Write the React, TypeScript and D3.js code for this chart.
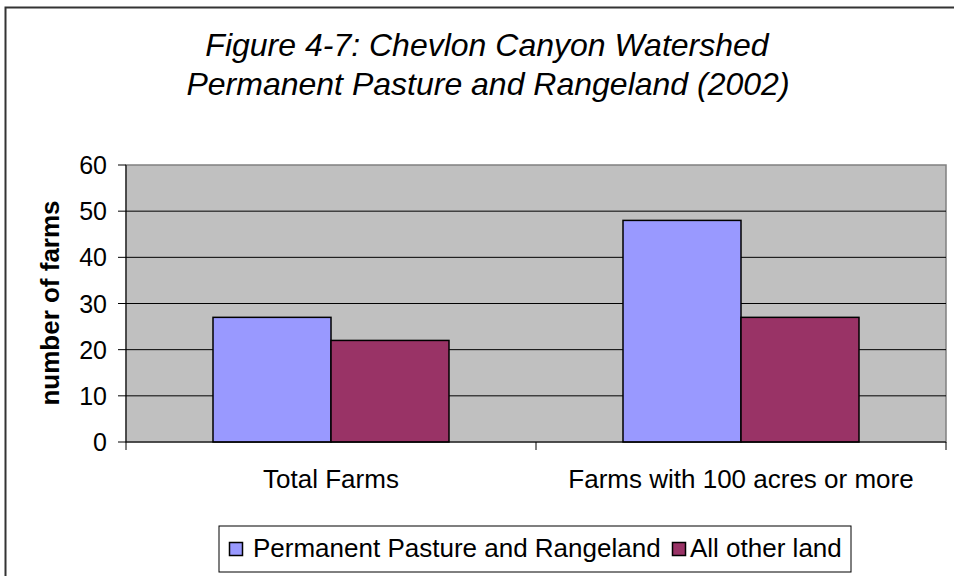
import React from "react";
import * as d3 from "d3";

const categories = ["Total Farms", "Farms with 100 acres or more"];
const seriesNames = ["Permanent Pasture and Rangeland", "All other land"];
const pastureValues = [27, 48];
const otherValues = [22, 27];
const yTicks = [0, 10, 20, 30, 40, 50, 60];
const colors = ["#9999FF", "#993366"];

const W = 954;
const H = 576;
const plot = { left: 126, right: 946, top: 165, bottom: 442 };
const FONT = "'Liberation Sans', Arial, sans-serif";

export default function App() {
  const x0 = d3
    .scaleBand<string>()
    .domain(categories)
    .range([plot.left, plot.right])
    .paddingInner(0)
    .paddingOuter(0);
  const groupPad = 0.2122;
  const x1 = d3
    .scaleBand<string>()
    .domain(seriesNames)
    .range([x0.bandwidth() * groupPad, x0.bandwidth() * (1 - groupPad)]);
  const y = d3.scaleLinear().domain([0, 60]).range([plot.bottom, plot.top]);
  const series = [pastureValues, otherValues];

  return (
    <svg
      width={W}
      height={H}
      style={{ position: "absolute", left: 0, top: 0 }}
      fontFamily={FONT}
    >
      <rect x={0} y={0} width={W} height={H} fill="#fff" />
      <rect x={5.5} y={7.5} width={W + 20} height={H + 20} fill="#fff" stroke="#333" strokeWidth={2} />
      <text textAnchor="middle" fontSize={32} fontStyle="italic" x={487} y={56}>
        Figure 4-7: Chevlon Canyon Watershed
      </text>
      <text textAnchor="middle" fontSize={32} fontStyle="italic" x={488} y={95}>
        Permanent Pasture and Rangeland (2002)
      </text>
      <rect
        x={plot.left}
        y={plot.top}
        width={plot.right - plot.left}
        height={plot.bottom - plot.top}
        fill="#C0C0C0"
        stroke="#808080"
        strokeWidth={1.5}
      />
      {yTicks.map((t) => (
        <g key={t}>
          {t > 0 && t < 60 && (
            <line x1={plot.left} x2={plot.right} y1={y(t)} y2={y(t)} stroke="#000" strokeWidth={1} />
          )}
          <line x1={plot.left - 8} x2={plot.left} y1={y(t)} y2={y(t)} stroke="#000" />
          <text x={107} y={y(t) + 9} textAnchor="end" fontSize={25}>
            {t}
          </text>
        </g>
      ))}
      {categories.map((c, ci) =>
        series.map((vals, si) => (
          <rect
            key={c + si}
            x={(x0(c) as number) + (x1(seriesNames[si]) as number)}
            y={y(vals[ci])}
            width={x1.bandwidth()}
            height={y(0) - y(vals[ci])}
            fill={colors[si]}
            stroke="#000"
            strokeWidth={1.5}
          />
        ))
      )}
      <line x1={plot.left} x2={plot.left} y1={plot.top} y2={plot.bottom} stroke="#000" />
      <line x1={plot.left} x2={plot.right} y1={plot.bottom} y2={plot.bottom} stroke="#000" />
      {[0, 1, 2].map((i) => {
        const xx = plot.left + i * x0.bandwidth();
        return <line key={i} x1={xx} x2={xx} y1={plot.bottom} y2={plot.bottom + 8} stroke="#000" />;
      })}
      {categories.map((c) => (
        <text
          key={c}
          x={(x0(c) as number) + x0.bandwidth() / 2}
          y={488}
          textAnchor="middle"
          fontSize={26}
        >
          {c}
        </text>
      ))}
      <text
        transform={`translate(59,303) rotate(-90)`}
        textAnchor="middle"
        fontSize={26}
        fontWeight="bold"
      >
        number of farms
      </text>
      <rect x={219} y={526} width={632} height={46} fill="#fff" stroke="#000" strokeWidth={1} />
      <rect x={229.5} y={542.5} width={13} height={13} fill={colors[0]} stroke="#000" strokeWidth={1.5} />
      <text x={253} y={557} fontSize={26}>
        {seriesNames[0]}
      </text>
      <rect x={672.5} y={542.5} width={13} height={13} fill={colors[1]} stroke="#000" strokeWidth={1.5} />
      <text x={690} y={557} fontSize={26}>
        {seriesNames[1]}
      </text>
    </svg>
  );
}
